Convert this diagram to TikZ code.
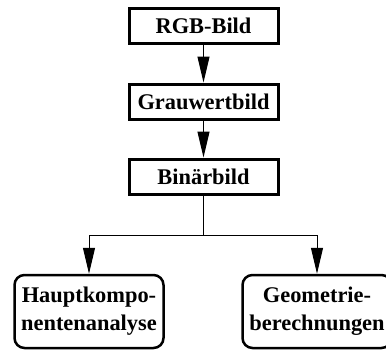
\documentclass[tikz,border=0pt]{standalone}
\usepackage{fontspec}
\setmainfont{Liberation Serif}
\usetikzlibrary{arrows.meta}
\begin{document}
\begin{tikzpicture}[x=1pt,y=-1pt,
  boxtxt/.style={font=\bfseries\fontsize{22.4}{28}\selectfont, align=center, inner sep=0pt},
  sqbox/.style={boxtxt, draw, line width=3pt, minimum width=149pt, minimum height=35pt},
  rdbox/.style={boxtxt, draw, line width=2.5pt, rounded corners=10pt, minimum width=149pt, minimum height=73pt},
  conn/.style={line width=1pt, -{Triangle[length=26pt,width=12pt]}},
  plain/.style={line width=1pt}]
\useasboundingbox (0,0) rectangle (386,351);
\node[sqbox] (rgb) at (203.5,25.5) {RGB-Bild};
\node[sqbox] (grau) at (203.5,101.5) {Grauwertbild};
\node[sqbox] (bin) at (203.5,176.5) {Binärbild};
\node[rdbox] (hk) at (89,311.5) {Hauptkompo-\\nentenanalyse};
\node[rdbox] (geo) at (317,311.5) {Geometrie-\\berechnungen};
\coordinate (j) at (203.5,235);
\draw[conn] (rgb) -- (grau);
\draw[conn] (grau) -- (bin);
\draw[plain] (bin) -- (j);
\draw[conn] (j) -| (hk.north);
\draw[conn] (j) -| (geo.north);
\end{tikzpicture}
\end{document}
